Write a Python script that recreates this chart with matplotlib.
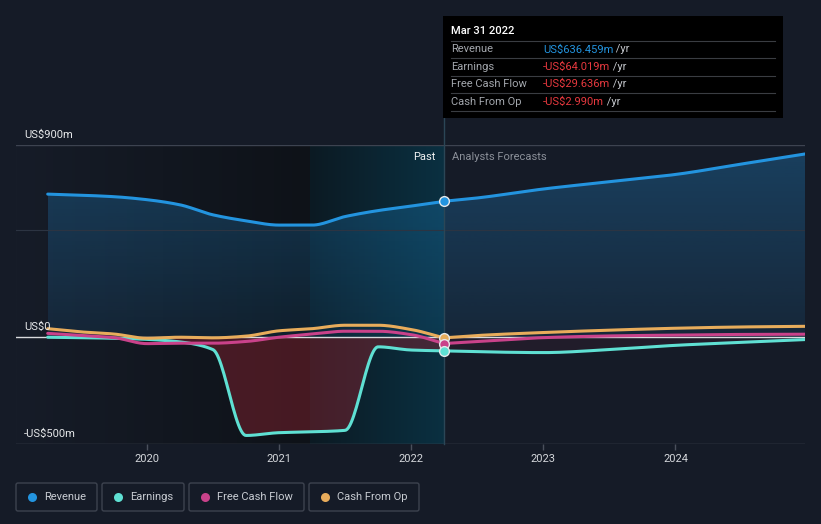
import matplotlib
matplotlib.use("Agg")
import matplotlib.pyplot as plt
import numpy as np
from matplotlib.colors import LinearSegmentedColormap, to_rgb
from matplotlib.patches import Rectangle, FancyBboxPatch
from matplotlib.transforms import blended_transform_factory

plt.rcParams["font.family"] = ["Roboto", "DejaVu Sans"]

# ---- data (US$ m, trailing twelve months) ----
t_past = [2019.25, 2019.5, 2019.75, 2020.0, 2020.25, 2020.5, 2020.75,
          2021.0, 2021.25, 2021.5, 2021.75, 2022.0, 2022.247]
t_fc = [2022.247, 2022.5, 2023.0, 2023.5, 2024.0, 2024.5, 2024.98]

rev_past = [670, 665, 658, 644, 620, 573, 545, 525, 525, 565, 593, 614, 636.459]
rev_fc = [636.459, 652, 694, 728, 762, 811, 858]
earn_past = [0, -2, -5, -10, -22, -58, -460, -447, -443, -436, -45, -60, -64.019]
earn_fc = [-64.019, -68, -72, -58, -38, -24, -11]
fcf_past = [18, 8, -2, -30, -28, -28, -20, 0, 15, 28, 28, 12, -29.636]
fcf_fc = [-29.636, -20, -2, 6, 10, 13, 14]
cfo_past = [40, 25, 15, -5, 0, -3, 5, 30, 40, 56, 56, 36, -2.990]
cfo_fc = [-2.990, 8, 22, 33, 42, 48, 51]

years = [2020, 2021, 2022, 2023, 2024]
band_start, now = 2021.235, 2022.247

BG = "#151b27"
C_REV, C_EARN, C_FCF, C_CFO = "#2394df", "#5fe0d3", "#c9428a", "#e8ac5b"


def smooth(x, y, n=300):
    # monotone cubic (Fritsch-Carlson) just for drawing the curve
    x, y = np.asarray(x, float), np.asarray(y, float)
    h = np.diff(x); d = np.diff(y) / h
    m = np.zeros_like(y); m[0], m[-1] = d[0], d[-1]
    for k in range(1, len(y) - 1):
        if d[k - 1] * d[k] > 0:
            w1, w2 = 2 * h[k] + h[k - 1], h[k] + 2 * h[k - 1]
            m[k] = (w1 + w2) / (w1 / d[k - 1] + w2 / d[k])
    xs = np.linspace(x[0], x[-1], n)
    i = np.clip(np.searchsorted(x, xs) - 1, 0, len(h) - 1)
    t = (xs - x[i]) / h[i]
    ys = ((2*t**3 - 3*t**2 + 1) * y[i] + (t**3 - 2*t**2 + t) * h[i] * m[i]
          + (-2*t**3 + 3*t**2) * y[i + 1] + (t**3 - t**2) * h[i] * m[i + 1])
    return xs, ys


def series(tp, vp, tf, vf):
    a, b = smooth(tp, vp); c, d = smooth(tf, vf)
    return np.concatenate([a, c]), np.concatenate([b, d])


def grad_fill(ax, xs, ys, color, top, a_top, a_bot, z):
    poly = ax.fill_between(xs, 0, ys, color="none", lw=0)
    g = np.zeros((256, 1, 4)); g[..., :3] = to_rgb(color)
    g[:, 0, 3] = np.linspace(a_top, a_bot, 256)
    im = ax.imshow(g, extent=[xs[0], xs[-1], 0, top], aspect="auto", zorder=z)
    im.set_clip_path(poly.get_paths()[0], transform=ax.transData)


fig = plt.figure(figsize=(8.21, 5.24), dpi=100, facecolor=BG)
ax = fig.add_axes([16/821, 80/524, 789/821, 299/524])
ax.set_facecolor(BG)
x0, x1 = 2019.01, 2024.98

# background regions
left_cm = LinearSegmentedColormap.from_list("l", ["#161c28", "#0e1218"])
band_cm = LinearSegmentedColormap.from_list("b", ["#0c1a23", "#0a3041"])
grad = np.linspace(0, 1, 256)[None, :]
ax.imshow(grad, cmap=left_cm, extent=[x0, band_start, -500, 900], aspect="auto", zorder=0)
ax.imshow(grad, cmap=band_cm, extent=[band_start, now, -500, 900], aspect="auto", zorder=0)

xr, yr = series(t_past, rev_past, t_fc, rev_fc)
xe, ye = series(t_past, earn_past, t_fc, earn_fc)
xf, yf = series(t_past, fcf_past, t_fc, fcf_fc)
xc, yc = series(t_past, cfo_past, t_fc, cfo_fc)

grad_fill(ax, xr, yr, C_REV, 860, 0.30, 0.10, 2)
past = xe <= now
ax.fill_between(xe[past], 0, ye[past], color="#8c2330", alpha=0.45, lw=0, zorder=2)
ax.fill_between(xe[~past], 0, ye[~past], color="#3a2030", alpha=0.35, lw=0, zorder=2)

# grid
ax.axhline(900, color="#3d4350", lw=1, zorder=3)
ax.axhline(500, color="#2c3442", lw=0.8, zorder=3)
ax.axhline(-500, color="#4a505c", lw=1, zorder=3)
ax.axhline(0, color="#d8dadd", lw=1, zorder=3)

for xs, ys, c in [(xr, yr, C_REV), (xe, ye, C_EARN), (xc, yc, C_CFO), (xf, yf, C_FCF)]:
    ax.plot(xs, ys, color=c, lw=2.2, zorder=4, solid_capstyle="round")

ax.plot([now, now], [-500, 1027], color="#2b4656", lw=1, zorder=3, clip_on=False)
for v, c in [(rev_past[-1], C_REV), (cfo_past[-1], C_CFO), (fcf_past[-1], C_FCF), (earn_past[-1], C_EARN)]:
    ax.plot(now, v, "o", ms=7, mfc=c, mec="#e6e8ea", mew=1, zorder=5)

ax.set_xlim(x0, x1); ax.set_ylim(-500, 900)

# axes styling
for s in ax.spines.values():
    s.set_visible(False)
ax.set_yticks([])
ax.set_xticks(years)
ax.set_xticklabels([str(y) for y in years])
ax.tick_params(axis="x", colors="#4a505c", length=4, width=1, pad=3, labelcolor="#d4d7db", labelsize=8)

tr = blended_transform_factory(ax.transAxes, ax.transData)
for v, lab in [(900, "US$900m"), (0, "US$0"), (-500, "-US$500m")]:
    ax.annotate(lab, xy=(0, v), xycoords=tr, xytext=(8, 5), textcoords="offset pixels",
                va="bottom", ha="left", color="#e6e8ea", fontsize=8, zorder=6)

ax.annotate("Past", xy=(now, 900), xytext=(-8, -12), textcoords="offset pixels",
            ha="right", va="center", color="#f0f1f2", fontsize=8, zorder=6)
ax.annotate("Analysts Forecasts", xy=(now, 900), xytext=(8, -12), textcoords="offset pixels",
            ha="left", va="center", color="#8b9099", fontsize=8, zorder=6)

# overlay in pixel space for tooltip and legend
ov = fig.add_axes([0, 0, 1, 1], facecolor="none")
ov.set_xlim(0, 821); ov.set_ylim(524, 0); ov.axis("off")

ov.add_patch(Rectangle((443, 16), 340, 102, facecolor="#000000", edgecolor="none"))
ov.text(451, 31, "Mar 31 2022", color="#ffffff", fontsize=8, va="center", fontweight="medium")
rows = [("Revenue", "US$636.459m", C_REV), ("Earnings", "-US$64.019m", "#e8393f"),
        ("Free Cash Flow", "-US$29.636m", "#e8393f"), ("Cash From Op", "-US$2.990m", "#e8393f")]
for yy in [41, 58, 76, 93, 111]:
    ov.plot([451, 775], [yy, yy], color="#3a3d42", lw=0.8)
for k, (lab, val, c) in enumerate(rows):
    yy = 49.5 + k * 17.4
    ov.text(451, yy, lab, color="#a3a7ad", fontsize=8, va="center")
    t = ov.text(543, yy, val, color=c, fontsize=8, va="center")
    ov.annotate(" /yr", xy=(1, 0.5), xycoords=t, va="center", ha="left", color="#c4c7cc", fontsize=8)

legend = [("Revenue", C_REV, 16, 97), ("Earnings", C_EARN, 102, 184),
          ("Free Cash Flow", C_FCF, 189, 304), ("Cash From Op", C_CFO, 309, 419)]
for lab, c, a, b in legend:
    ov.add_patch(FancyBboxPatch((a, 483), b - a, 28, boxstyle="round,pad=0,rounding_size=2",
                                facecolor="none", edgecolor="#3d434f", lw=1))
    ov.plot(a + 16, 497, "o", ms=6.5, color=c, mec="none")
    ov.text(a + 28, 497, lab, color="#c8ccd2", fontsize=8, va="center")

fig.savefig("out.png", dpi=100, facecolor=BG)
